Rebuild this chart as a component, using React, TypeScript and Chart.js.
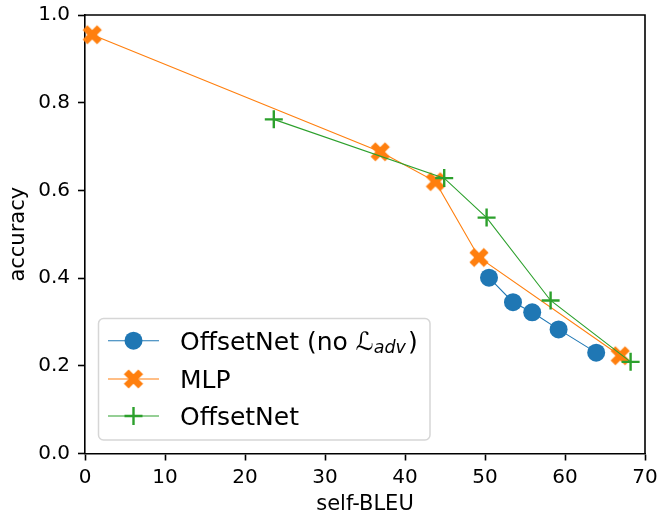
import React, { useEffect, useRef } from "react";
import { Chart, registerables } from "chart.js";

Chart.register(...registerables);

// ---- data ----
const blueX = [50.5, 53.5, 55.9, 59.2, 63.9];
const blueY = [0.401, 0.345, 0.322, 0.283, 0.23];
const mlpX = [0.9, 36.9, 43.8, 49.25, 66.9];
const mlpY = [0.955, 0.688, 0.62, 0.447, 0.223];
const offX = [23.6, 44.9, 50.2, 58.2, 68.2];
const offY = [0.762, 0.628, 0.538, 0.349, 0.209];
const seriesLabels = ["OffsetNet (no ℒadv)", "MLP", "OffsetNet"];
const xTitle = "self-BLEU";
const yTitle = "accuracy";

const BLUE = "#1f77b4";
const ORANGE = "#ff7f0e";
const GREEN = "#2ca02c";
const FONT = "'DejaVu Sans', sans-serif";

function makeXMarker(color: string): HTMLCanvasElement {
  const c = document.createElement("canvas");
  c.width = 22;
  c.height = 22;
  const ctx = c.getContext("2d")!;
  ctx.translate(11, 11);
  ctx.rotate(Math.PI / 4);
  const h = 10.2;
  const a = h / 3;
  ctx.beginPath();
  ctx.moveTo(-a, -h);
  ctx.lineTo(a, -h);
  ctx.lineTo(a, -a);
  ctx.lineTo(h, -a);
  ctx.lineTo(h, a);
  ctx.lineTo(a, a);
  ctx.lineTo(a, h);
  ctx.lineTo(-a, h);
  ctx.lineTo(-a, a);
  ctx.lineTo(-h, a);
  ctx.lineTo(-h, -a);
  ctx.lineTo(-a, -a);
  ctx.closePath();
  ctx.fillStyle = color;
  ctx.fill();
  return c;
}

function toPts(xs: number[], ys: number[]) {
  return xs.map((x, i) => ({ x, y: ys[i] }));
}

export default function App() {
  const ref = useRef<HTMLCanvasElement>(null);
  useEffect(() => {
    const xMarker = makeXMarker(ORANGE);

    const framePlugin = {
      id: "frameAndLegend",
      afterDraw(chart: any) {
        const ctx = chart.ctx as CanvasRenderingContext2D;
        const ca = chart.chartArea;
        ctx.save();
        ctx.strokeStyle = "#000";
        ctx.lineWidth = 1.6;
        ctx.beginPath();
        ctx.moveTo(ca.left, ca.top);
        ctx.lineTo(ca.right, ca.top);
        ctx.lineTo(ca.right, ca.bottom);
        ctx.stroke();

        // legend box
        const bx = 98.5, by = 318.5, bw = 331.5, bh = 121.5, r = 5;
        ctx.beginPath();
        ctx.moveTo(bx + r, by);
        ctx.lineTo(bx + bw - r, by);
        ctx.arcTo(bx + bw, by, bx + bw, by + r, r);
        ctx.lineTo(bx + bw, by + bh - r);
        ctx.arcTo(bx + bw, by + bh, bx + bw - r, by + bh, r);
        ctx.lineTo(bx + r, by + bh);
        ctx.arcTo(bx, by + bh, bx, by + bh - r, r);
        ctx.lineTo(bx, by + r);
        ctx.arcTo(bx, by, bx + r, by, r);
        ctx.closePath();
        ctx.fillStyle = "rgba(255,255,255,0.8)";
        ctx.fill();
        ctx.strokeStyle = "#d6d6d6";
        ctx.lineWidth = 1.5;
        ctx.stroke();

        const rows = [340.7, 379, 416];
        const colors = [BLUE, ORANGE, GREEN];
        rows.forEach((yy, i) => {
          ctx.strokeStyle = colors[i];
          ctx.lineWidth = 1.1;
          ctx.beginPath();
          ctx.moveTo(108, yy);
          ctx.lineTo(159, yy);
          ctx.stroke();
          const mx = 133.5;
          if (i === 0) {
            ctx.fillStyle = BLUE;
            ctx.beginPath();
            ctx.arc(mx, yy, 9, 0, Math.PI * 2);
            ctx.fill();
          } else if (i === 1) {
            ctx.drawImage(xMarker, mx - 11, yy - 11);
          } else {
            ctx.strokeStyle = GREEN;
            ctx.lineWidth = 2.4;
            ctx.beginPath();
            ctx.moveTo(mx - 9, yy);
            ctx.lineTo(mx + 9, yy);
            ctx.moveTo(mx, yy - 9);
            ctx.lineTo(mx, yy + 9);
            ctx.stroke();
          }
          // text
          const label = seriesLabels[i];
          ctx.fillStyle = "#000";
          ctx.textBaseline = "alphabetic";
          ctx.textAlign = "left";
          const base = yy + 9;
          let tx = 180;
          const idx = label.indexOf("ℒ");
          if (idx < 0) {
            ctx.font = `25px ${FONT}`;
            ctx.fillText(label, tx, base);
          } else {
            const pre = label.slice(0, idx);
            const sub = label.slice(idx + 1, label.length);
            const subText = sub.replace(")", "");
            ctx.font = `25px ${FONT}`;
            ctx.fillText(pre, tx, base);
            tx += ctx.measureText(pre).width;
            ctx.font = `italic 25px ${FONT}`;
            ctx.fillText("ℒ", tx, base);
            tx += ctx.measureText("ℒ").width;
            ctx.font = `oblique 17.5px ${FONT}`;
            ctx.fillText(subText, tx, base + 3.5);
            tx += ctx.measureText(subText).width + 2;
            ctx.font = `25px ${FONT}`;
            ctx.fillText(")", tx, base);
          }
        });
        ctx.restore();
      },
    };

    const chart = new Chart(ref.current!, {
      type: "line",
      data: {
        datasets: [
          {
            label: seriesLabels[0],
            data: toPts(blueX, blueY),
            borderColor: BLUE,
            backgroundColor: BLUE,
            borderWidth: 1.1,
            pointStyle: "circle",
            pointRadius: 9,
            pointBorderWidth: 0,
            pointBackgroundColor: BLUE,
            order: 3,
            clip: false,
          } as any,
          {
            label: seriesLabels[1],
            data: toPts(mlpX, mlpY),
            borderColor: ORANGE,
            backgroundColor: ORANGE,
            borderWidth: 1.1,
            pointStyle: xMarker,
            pointRadius: 10,
            pointBorderWidth: 0,
            order: 2,
            clip: false,
          } as any,
          {
            label: seriesLabels[2],
            data: toPts(offX, offY),
            borderColor: GREEN,
            backgroundColor: GREEN,
            borderWidth: 1.1,
            pointStyle: "cross",
            pointRadius: 9,
            pointBorderWidth: 2.4,
            pointBorderColor: GREEN,
            order: 1,
            clip: false,
          } as any,
        ],
      },
      options: {
        animation: false,
        responsive: false,
        events: [],
        layout: { padding: { left: 0, top: 15, right: 12, bottom: 0 } },
        plugins: {
          legend: { display: false },
          tooltip: { enabled: false },
        },
        elements: { line: { tension: 0 } },
        scales: {
          x: {
            type: "linear",
            min: 0,
            max: 70,
            ticks: {
              stepSize: 10,
              color: "#000",
              font: { family: FONT, size: 20 },
              padding: 5,
              maxRotation: 0,
            },
            grid: {
              drawOnChartArea: false,
              drawTicks: true,
              tickLength: 7,
              tickWidth: 1.6,
              tickColor: "#000",
            },
            border: { display: true, color: "#000", width: 1.6 },
            title: {
              display: true,
              text: xTitle,
              color: "#000",
              font: { family: FONT, size: 21 },
              padding: { top: 0, bottom: 3 },
            },
            afterFit(s: any) {
              s.height = 66.5;
              s.paddingLeft = 0;
              s.paddingRight = 0;
              s.paddingTop = 0;
              s.paddingBottom = 0;
            },
          },
          y: {
            type: "linear",
            min: 0,
            max: 1,
            ticks: {
              stepSize: 0.2,
              color: "#000",
              font: { family: FONT, size: 20 },
              padding: 8,
              callback: (v: any) => Number(v).toFixed(1),
            },
            grid: {
              drawOnChartArea: false,
              drawTicks: true,
              tickLength: 7,
              tickWidth: 1.6,
              tickColor: "#000",
            },
            border: { display: true, color: "#000", width: 1.6 },
            title: {
              display: true,
              text: yTitle,
              color: "#000",
              font: { family: FONT, size: 21 },
              padding: { top: 6, bottom: 0 },
            },
            afterFit(s: any) {
              s.width = 85;
              s.paddingLeft = 0;
              s.paddingRight = 0;
              s.paddingTop = 0;
              s.paddingBottom = 0;
            },
          },
        },
      } as any,
      plugins: [framePlugin],
    });
    return () => chart.destroy();
  }, []);

  return (
    <div style={{ position: "absolute", left: 0, top: 0, width: 657, height: 520 }}>
      <canvas ref={ref} width={657} height={520} style={{ display: "block" }} />
    </div>
  );
}
